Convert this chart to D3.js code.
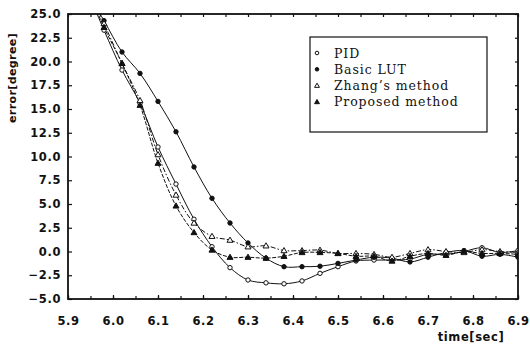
<!DOCTYPE html>
<html>
<head>
<meta charset="utf-8">
<script src="https://cdn.jsdelivr.net/npm/d3@7"></script>
<style>
  body { margin: 0; background: #fff; }
  svg { display: block; }
</style>
</head>
<body>
<script>
const width = 530;
const height = 345;
const margin = {top: 14, right: 12, bottom: 46, left: 68};

// sample times (s)
const times = [5.94, 5.98, 6.02, 6.06, 6.10, 6.14, 6.18, 6.22, 6.26, 6.30, 6.34, 6.38, 6.42,
               6.46, 6.50, 6.54, 6.58, 6.62, 6.66, 6.70, 6.74, 6.78, 6.82, 6.86, 6.90];

// error in degrees
const pid      = [27.8, 23.3, 19.1, 15.6, 11.0, 7.1, 3.4, 0.5, -1.7, -3.0, -3.3, -3.4, -3.1,
                  -2.3, -1.6, -1.0, -0.9, -0.9, -0.8, -0.3, -0.3, 0.0, 0.4, -0.1, 0.1];
const basicLut = [27.5, 24.3, 21.0, 18.75, 15.8, 12.6, 8.9, 5.6, 3.0, 0.9, -0.7, -1.6, -1.6,
                  -1.55, -1.25, -0.9, -0.6, -0.7, -1.1, -0.6, -0.1, 0.1, -0.5, -0.3, -0.6];
const zhang    = [28.2, 24.0, 19.8, 15.9, 10.2, 5.95, 3.0, 1.6, 1.2, 0.5, 0.6, 0.1, 0.1,
                  0.15, -0.2, -0.2, -0.3, -0.6, -0.2, 0.2, 0.0, -0.1, 0.2, 0.0, -0.1];
const proposed = [28.0, 23.6, 19.8, 15.4, 9.3, 4.8, 2.0, 0.16, -0.6, -0.6, -0.7, -0.5, -0.1,
                  -0.1, -0.2, -0.5, -0.5, -1.0, -0.5, -0.2, -0.4, 0.0, -0.2, -0.2, -0.3];

const seriesNames = ['PID', 'Basic LUT', 'Zhang\u2019s method', 'Proposed method'];
const seriesValues = [pid, basicLut, zhang, proposed];
const markerKinds = ['openCircle', 'filledCircle', 'openTriangle', 'filledTriangle'];
const dashes = [null, null, '5,2,1.5,2', '4,1.5'];

const yTicks = d3.range(-5, 25.01, 2.5);
const xTicks = d3.range(5.9, 6.901, 0.1);
const xMinor = d3.range(5.9, 6.901, 0.05);

const svg = d3.select('body').append('svg')
    .attr('width', width)
    .attr('height', height);

const x = d3.scaleLinear().domain([5.9, 6.9]).range([margin.left, width - margin.right]);
const y = d3.scaleLinear().domain([-5, 25]).range([height - margin.bottom, margin.top]);

const tickFont = 'DejaVu Sans, sans-serif';

// clip so lines leaving the top are cut at the frame
svg.append('clipPath').attr('id', 'plot-clip')
    .append('rect')
    .attr('x', margin.left).attr('y', margin.top)
    .attr('width', width - margin.left - margin.right)
    .attr('height', height - margin.top - margin.bottom);

// axes
const yAxis = svg.append('g')
    .attr('transform', `translate(${margin.left},0)`)
    .call(d3.axisLeft(y).tickValues(yTicks).tickFormat(d3.format('.1f'))
        .tickSizeInner(-4).tickSizeOuter(0).tickPadding(7));
yAxis.selectAll('.tick text')
    .text(d => d3.format('.1f')(d).replace('-', '\u2212'))
    .attr('font-family', tickFont).attr('font-weight', 'bold')
    .attr('font-size', 11.5).attr('letter-spacing', 0.6).attr('fill', '#111');

const xAxis = svg.append('g')
    .attr('transform', `translate(0,${height - margin.bottom})`)
    .call(d3.axisBottom(x).tickValues(xTicks).tickFormat(d3.format('.1f'))
        .tickSizeInner(-4).tickSizeOuter(0).tickPadding(18));
xAxis.selectAll('.tick text')
    .attr('font-family', tickFont).attr('font-weight', 'bold')
    .attr('font-size', 11.5).attr('letter-spacing', 0.6).attr('fill', '#111');

svg.append('g')
    .attr('transform', `translate(0,${height - margin.bottom})`)
    .call(d3.axisBottom(x).tickValues(xMinor).tickFormat('').tickSizeInner(-3).tickSizeOuter(0));

svg.append('g')
    .attr('transform', `translate(0,${margin.top})`)
    .call(d3.axisTop(x).tickValues(xMinor).tickFormat('').tickSizeInner(-3).tickSizeOuter(0));

svg.append('g')
    .attr('transform', `translate(${width - margin.right},0)`)
    .call(d3.axisRight(y).tickValues(yTicks).tickFormat('').tickSizeInner(-3).tickSizeOuter(0));

svg.selectAll('.domain').remove();
svg.selectAll('.tick line').attr('stroke', '#111').attr('stroke-width', 1.2);

// frame
svg.append('rect')
    .attr('x', margin.left).attr('y', margin.top)
    .attr('width', width - margin.left - margin.right)
    .attr('height', height - margin.top - margin.bottom)
    .attr('fill', 'none').attr('stroke', '#111').attr('stroke-width', 1.8);

// axis titles
svg.append('text')
    .attr('transform', `translate(16,${78}) rotate(-90)`)
    .attr('text-anchor', 'middle')
    .attr('font-family', tickFont).attr('font-size', 11).attr('letter-spacing', 0.4)
    .attr('font-weight', 600).attr('fill', '#111')
    .text('error[degree]');

svg.append('text')
    .attr('x', 471).attr('y', 341)
    .attr('text-anchor', 'middle')
    .attr('font-family', tickFont).attr('font-weight', 'bold').attr('font-size', 11.5)
    .attr('letter-spacing', 0.6).attr('fill', '#111')
    .text('time[sec]');

// lines
const line = d3.line()
    .x((d, i) => x(times[i]))
    .y(d => y(d))
    .curve(d3.curveCatmullRom.alpha(0.5));

const plot = svg.append('g').attr('clip-path', 'url(#plot-clip)');

seriesValues.forEach((vals, s) => {
    plot.append('path')
        .datum(vals)
        .attr('d', line)
        .attr('fill', 'none')
        .attr('stroke', '#111')
        .attr('stroke-width', 1)
        .attr('stroke-dasharray', dashes[s]);
});

function drawMarker(g, kind, cx, cy, size) {
    if (kind === 'openCircle' || kind === 'filledCircle') {
        g.append('circle')
            .attr('cx', cx).attr('cy', cy).attr('r', size)
            .attr('fill', kind === 'filledCircle' ? '#111' : '#fff')
            .attr('stroke', '#111').attr('stroke-width', 1);
    } else {
        const sym = d3.symbol().type(d3.symbolTriangle).size(size * size * 3.2);
        g.append('path')
            .attr('transform', `translate(${cx},${cy + size * 0.2})`)
            .attr('d', sym())
            .attr('fill', kind === 'filledTriangle' ? '#111' : '#fff')
            .attr('stroke', '#111').attr('stroke-width', 1);
    }
}

seriesValues.forEach((vals, s) => {
    const g = plot.append('g');
    vals.forEach((v, i) => {
        if (v <= 25) drawMarker(g, markerKinds[s], x(times[i]), y(v), 2.2);
    });
});

// legend
const legend = svg.append('g');
legend.append('rect')
    .attr('x', 310).attr('y', 37).attr('width', 177).attr('height', 95)
    .attr('fill', '#fff').attr('stroke', '#111').attr('stroke-width', 1.2);

seriesNames.forEach((name, i) => {
    const ly = 53 + i * 16.3;
    drawMarker(legend, markerKinds[i], 317, ly, 1.8);
    legend.append('text')
        .attr('x', 334).attr('y', ly + 4.5)
        .attr('font-family', 'DejaVu Serif, serif').attr('font-size', 12.5)
        .attr('letter-spacing', 0.9).attr('fill', '#111')
        .text(name);
});
</script>
</body>
</html>
